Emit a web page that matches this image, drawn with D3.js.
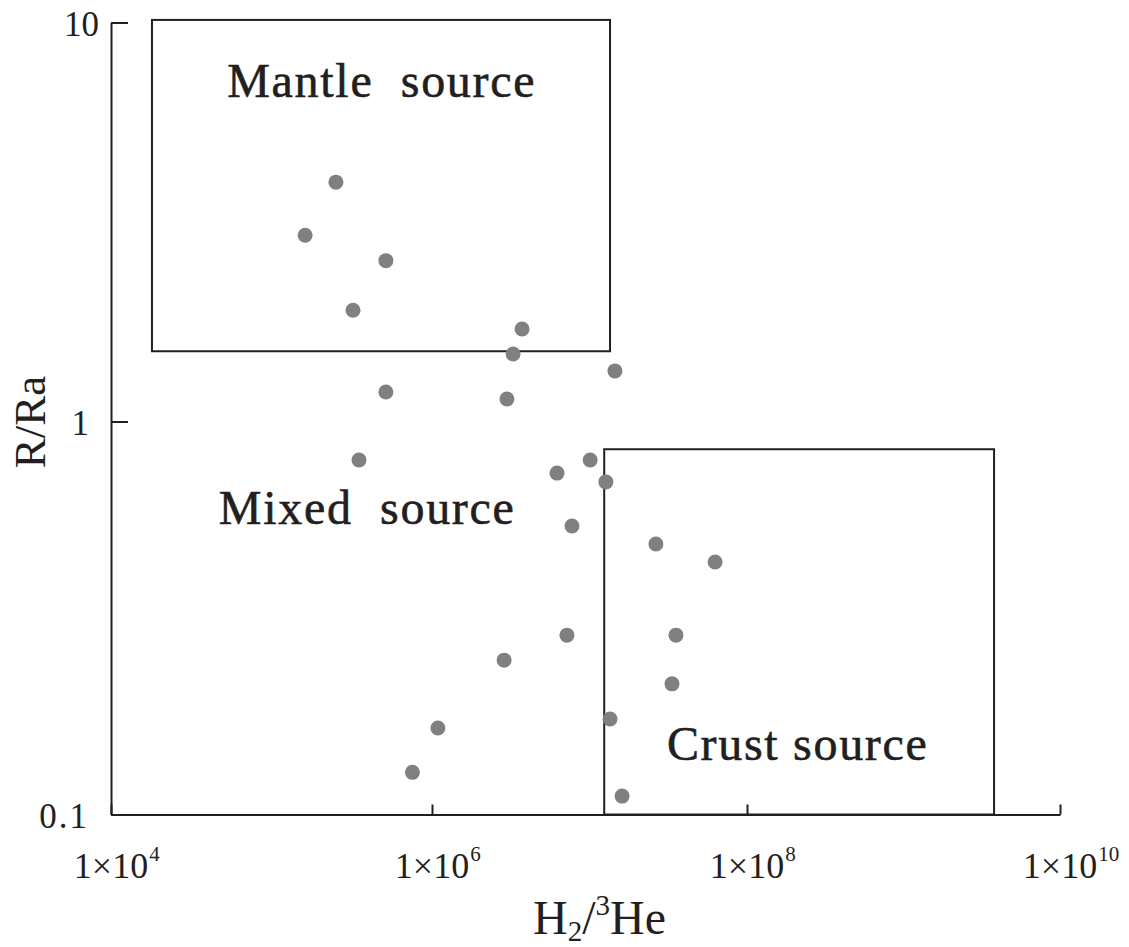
<!DOCTYPE html>
<html>
<head>
<meta charset="utf-8">
<script src="https://cdn.jsdelivr.net/npm/d3@7"></script>
<style>
  body { margin: 0; background: #fff; }
  svg text { font-family: "Liberation Serif", "Times New Roman", serif; fill: #231f20; }
</style>
</head>
<body>
<div id="chart"></div>
<script>
// H2/3He ratio of each sample
const h2He3 = [2.52e5, 1.62e5, 5.16e5, 3.22e5, 3.73e6, 3.27e6, 5.16e5, 2.99e6,
               1.45e7, 3.51e5, 6.22e6, 1.01e7, 1.27e7, 7.74e6, 2.64e7, 6.27e7,
               7.19e6, 2.87e6, 3.54e7, 3.34e7, 1.09e6, 7.55e5, 1.35e7, 1.61e7];
// R/Ra of each sample
const rRa = [3.98, 2.93, 2.53, 1.90, 1.705, 1.476, 1.186, 1.139,
             1.339, 0.798, 0.739, 0.798, 0.702, 0.542, 0.488, 0.439,
             0.286, 0.247, 0.286, 0.215, 0.166, 0.128, 0.175, 0.1114];

const xTicks = [1e4, 1e6, 1e8, 1e10];
const xTickExp = ["4", "6", "8", "10"];
const yTicks = [0.1, 1, 10];
const yTickLabels = ["0.1", "1", "10"];

// source fields: [xMin, xMax, yMin, yMax]
const boxMantle = [1.8e4, 1.35e7, 1.5, 10.15];
const boxCrust = [1.24e7, 3.79e9, 0.1, 0.85];

const labelNames = ["Mantle  source", "Mixed  source", "Crust source"];
const labelX = [5.3e4, 4.7e4, 3.1e7];
const labelY = [6.5, 0.548, 0.1376];

const width = 1129, height = 947;
const ink = "#231f20";

const svg = d3.select("#chart").append("svg")
    .attr("width", width)
    .attr("height", height);

const x = d3.scaleLog()
    .domain([1e4, 1e6, 1e8, 1e10])
    .range([111, 432, 747, 1060]);

const y = d3.scaleLog()
    .domain([0.1, 1, 10])
    .range([814.5, 421.5, 22.5]);

// boxes
function drawBox(b) {
    svg.append("rect")
        .attr("x", x(b[0]))
        .attr("y", y(b[3]))
        .attr("width", x(b[1]) - x(b[0]))
        .attr("height", y(b[2]) - y(b[3]))
        .attr("fill", "none")
        .attr("stroke", ink)
        .attr("stroke-width", 2);
}
drawBox(boxMantle);
drawBox(boxCrust);

// axes
const yAxis = svg.append("g")
    .attr("transform", `translate(${x(1e4)},0)`)
    .call(d3.axisLeft(y)
        .tickValues(yTicks)
        .tickFormat((d, i) => yTickLabels[i])
        .tickSizeInner(-17)
        .tickSizeOuter(0)
        .tickPadding(12));

const xAxis = svg.append("g")
    .attr("transform", `translate(0,${y(0.1)})`)
    .call(d3.axisBottom(x)
        .tickValues(xTicks)
        .tickFormat("")
        .tickSizeInner(-10)
        .tickSizeOuter(0));

svg.selectAll(".domain, .tick line")
    .attr("stroke", ink)
    .attr("stroke-width", 2);

yAxis.selectAll("text")
    .style("font-size", "35px")
    .attr("fill", ink)
    .attr("dx", d => d < 10 ? -10 : 0)
    .attr("dy", "0.36em")
    .style("letter-spacing", d => d < 1 ? "2px" : "0px");

// x tick labels: 1×10^n, base centred on the tick
xTicks.forEach((v, i) => {
    const base = svg.append("text")
        .attr("x", x(v))
        .attr("y", 878)
        .attr("text-anchor", "middle")
        .style("font-size", "36px")
        .text("1×10");
    const w = base.node().getComputedTextLength();
    svg.append("text")
        .attr("x", x(v) + w / 2 + 1)
        .attr("y", 861)
        .style("font-size", "21px")
        .text(xTickExp[i]);
});

// points
svg.append("g")
    .selectAll("circle")
    .data(h2He3.map((d, i) => [d, rRa[i]]))
    .enter()
    .append("circle")
    .attr("cx", d => x(d[0]))
    .attr("cy", d => y(d[1]))
    .attr("r", 7.5)
    .attr("fill", "#808080");

// field labels
svg.selectAll(".field-label")
    .data(labelNames)
    .enter()
    .append("text")
    .attr("class", "field-label")
    .attr("x", (d, i) => x(labelX[i]))
    .attr("y", (d, i) => y(labelY[i]))
    .style("font-size", "48px")
    .style("letter-spacing", "1.7px")
    .style("white-space", "pre")
    .attr("stroke", ink)
    .attr("stroke-width", 0.6)
    .text(d => d);

// axis titles
const xt = svg.append("text")
    .attr("x", 533)
    .attr("y", 934)
    .style("font-size", "48px");
xt.append("tspan").text("H");
xt.append("tspan").attr("dy", 7).style("font-size", "29px").text("2");
xt.append("tspan").attr("dy", -7).text("/");
xt.append("tspan").attr("dy", -19).style("font-size", "29px").text("3");
xt.append("tspan").attr("dy", 19).text("He");

svg.append("text")
    .attr("transform", "translate(45,422) rotate(-90)")
    .attr("text-anchor", "middle")
    .style("font-size", "45px")
    .text("R/Ra");
</script>
</body>
</html>
